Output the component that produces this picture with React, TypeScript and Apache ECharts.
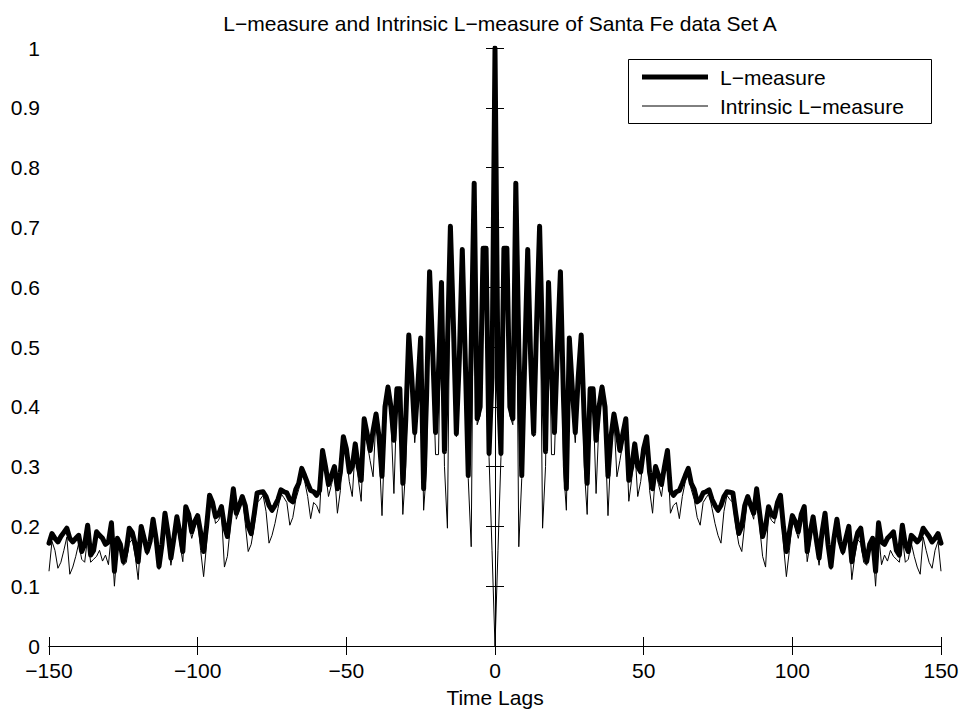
import React, { useEffect, useRef } from "react";
import * as echarts from "echarts";

// Lags 0..150 (the measure is symmetric in the lag: value at -k equals value at k)
const lMeasureHalf = [
  1.000, 0.450, 0.322, 0.665, 0.665, 0.400, 0.380, 0.774, 0.500, 0.285,
  0.480, 0.663, 0.480, 0.355, 0.540, 0.702, 0.500, 0.325, 0.608, 0.460,
  0.357, 0.500, 0.626, 0.420, 0.263, 0.515, 0.430, 0.357, 0.450, 0.520,
  0.380, 0.272, 0.430, 0.430, 0.344, 0.400, 0.433, 0.400, 0.284, 0.350,
  0.388, 0.360, 0.327, 0.355, 0.380, 0.277, 0.300, 0.338, 0.300, 0.291,
  0.330, 0.350, 0.290, 0.263, 0.300, 0.285, 0.270, 0.300, 0.327, 0.260,
  0.252, 0.258, 0.260, 0.272, 0.285, 0.297, 0.272, 0.262, 0.241, 0.245,
  0.256, 0.258, 0.261, 0.245, 0.235, 0.227, 0.235, 0.250, 0.258, 0.257,
  0.256, 0.220, 0.188, 0.200, 0.235, 0.250, 0.235, 0.222, 0.263, 0.222,
  0.183, 0.200, 0.233, 0.220, 0.216, 0.240, 0.252, 0.200, 0.158, 0.190,
  0.218, 0.208, 0.191, 0.220, 0.233, 0.158, 0.190, 0.216, 0.180, 0.147,
  0.190, 0.222, 0.170, 0.133, 0.180, 0.212, 0.175, 0.158, 0.180, 0.200,
  0.141, 0.170, 0.190, 0.197, 0.160, 0.141, 0.170, 0.180, 0.125, 0.206,
  0.174, 0.170, 0.180, 0.185, 0.191, 0.160, 0.152, 0.202, 0.170, 0.158,
  0.185, 0.180, 0.174, 0.180, 0.197, 0.190, 0.183, 0.174, 0.180, 0.188,
  0.172,
];

const intrinsicHalf = [
  0.000, 0.160, 0.315, 0.660, 0.655, 0.385, 0.370, 0.770, 0.166, 0.280,
  0.460, 0.660, 0.450, 0.350, 0.520, 0.698, 0.197, 0.300, 0.604, 0.320,
  0.320, 0.480, 0.622, 0.300, 0.227, 0.510, 0.400, 0.340, 0.430, 0.515,
  0.300, 0.220, 0.420, 0.410, 0.255, 0.380, 0.428, 0.360, 0.218, 0.330,
  0.383, 0.283, 0.310, 0.340, 0.375, 0.242, 0.280, 0.332, 0.250, 0.275,
  0.320, 0.345, 0.260, 0.222, 0.290, 0.270, 0.250, 0.290, 0.322, 0.222,
  0.235, 0.240, 0.213, 0.250, 0.275, 0.290, 0.262, 0.245, 0.215, 0.202,
  0.240, 0.248, 0.255, 0.230, 0.205, 0.185, 0.172, 0.225, 0.252, 0.245,
  0.240, 0.200, 0.170, 0.158, 0.205, 0.248, 0.228, 0.212, 0.260, 0.200,
  0.150, 0.132, 0.222, 0.210, 0.205, 0.235, 0.248, 0.170, 0.116, 0.160,
  0.210, 0.198, 0.180, 0.205, 0.226, 0.141, 0.172, 0.210, 0.168, 0.135,
  0.180, 0.216, 0.158, 0.128, 0.170, 0.205, 0.165, 0.152, 0.170, 0.192,
  0.111, 0.150, 0.178, 0.172, 0.140, 0.135, 0.160, 0.170, 0.100, 0.190,
  0.136, 0.152, 0.142, 0.160, 0.150, 0.145, 0.140, 0.182, 0.140, 0.145,
  0.172, 0.150, 0.132, 0.120, 0.182, 0.160, 0.140, 0.130, 0.160, 0.175,
  0.125,
];

const seriesNames = ["L\u2212measure", "Intrinsic L\u2212measure"];
const titleText = "L\u2212measure and Intrinsic L\u2212measure of Santa Fe data Set A";
const xAxisName = "Time Lags";
const xTicks = { min: -150, max: 150, interval: 50 };
const yTicks = { min: 0, max: 1, interval: 0.1 };

function mirror(half: number[]): number[][] {
  const out: number[][] = [];
  for (let k = half.length - 1; k >= 1; k--) out.push([-k, half[k]]);
  for (let k = 0; k < half.length; k++) out.push([k, half[k]]);
  return out;
}

const FONT = "'Liberation Sans', Arial, Helvetica, sans-serif";
const FS = 21;

export default function App() {
  const ref = useRef<HTMLDivElement>(null);
  useEffect(() => {
    if (!ref.current) return;
    const chart = echarts.init(ref.current, undefined, { renderer: "svg" });
    const fmtX = (v: number) => (v < 0 ? "\u2212" + Math.abs(v) : String(v));
    const axisCommon = {
      axisLine: { show: true, lineStyle: { color: "#000", width: 1 } },
      axisTick: { show: true, inside: true, length: 9, lineStyle: { color: "#000", width: 1 } },
      splitLine: { show: false },
    };
    const lgLeft = 628;
    const lgTop = 59;
    const lgW = 303;
    const lgH = 64;
    const row1 = lgTop + 18;
    const row2 = lgTop + 47;
    chart.setOption({
      animation: false,
      backgroundColor: "#fff",
      title: {
        text: titleText,
        left: 495,
        top: 8,
        textAlign: "center",
        textStyle: { fontFamily: FONT, fontSize: FS, fontWeight: "normal", color: "#000" },
      },
      grid: { left: 49, right: 24, top: 48, bottom: 65, show: false },
      graphic: [
        {
          type: "rect",
          z: 100,
          shape: { x: lgLeft + 0.5, y: lgTop + 0.5, width: lgW, height: lgH },
          style: { fill: "#fff", stroke: "#000", lineWidth: 1 },
        },
        {
          type: "line",
          z: 101,
          shape: { x1: lgLeft + 14, y1: row1, x2: lgLeft + 80, y2: row1 },
          style: { stroke: "#000", lineWidth: 5 },
        },
        {
          type: "line",
          z: 101,
          shape: { x1: lgLeft + 14, y1: row2, x2: lgLeft + 80, y2: row2 },
          style: { stroke: "#000", lineWidth: 1 },
        },
        {
          type: "text",
          z: 101,
          x: lgLeft + 92,
          y: row1,
          style: {
            text: seriesNames[0],
            fill: "#000",
            font: FS + "px 'Liberation Sans', Arial, sans-serif",
            textAlign: "left",
            textVerticalAlign: "middle",
          },
        },
        {
          type: "text",
          z: 101,
          x: lgLeft + 92,
          y: row2,
          style: {
            text: seriesNames[1],
            fill: "#000",
            font: FS + "px 'Liberation Sans', Arial, sans-serif",
            textAlign: "left",
            textVerticalAlign: "middle",
          },
        },
      ],
      xAxis: [
        {
          type: "value",
          position: "bottom",
          ...xTicks,
          ...axisCommon,
          axisLabel: { formatter: fmtX, fontFamily: FONT, fontSize: FS, color: "#000", margin: 14 },
          name: xAxisName,
          nameLocation: "middle",
          nameGap: 41,
          nameTextStyle: { fontFamily: FONT, fontSize: FS, color: "#000" },
        },
        {
          type: "value",
          position: "top",
          ...xTicks,
          ...axisCommon,
          axisLabel: { show: false },
        },
      ],
      yAxis: [
        {
          type: "value",
          position: "left",
          ...yTicks,
          ...axisCommon,
          axisLabel: { fontFamily: FONT, fontSize: FS, color: "#000", margin: 9 },
        },
        {
          type: "value",
          position: "right",
          ...yTicks,
          ...axisCommon,
          axisLabel: { show: false },
        },
      ],
      series: [
        {
          name: seriesNames[0],
          type: "line",
          xAxisIndex: 0,
          yAxisIndex: 0,
          data: mirror(lMeasureHalf),
          showSymbol: false,
          symbol: "none",
          lineStyle: { color: "#000", width: 5, join: "round", cap: "round" },
          itemStyle: { color: "#000" },
        },
        {
          name: seriesNames[1],
          type: "line",
          xAxisIndex: 0,
          yAxisIndex: 0,
          data: mirror(intrinsicHalf),
          showSymbol: false,
          symbol: "none",
          lineStyle: { color: "#000", width: 1 },
          itemStyle: { color: "#000" },
        },
      ],
    });
    return () => chart.dispose();
  }, []);
  return (
    <div
      ref={ref}
      style={{ position: "absolute", left: 0, top: 0, width: 965, height: 713, background: "#fff" }}
    />
  );
}
